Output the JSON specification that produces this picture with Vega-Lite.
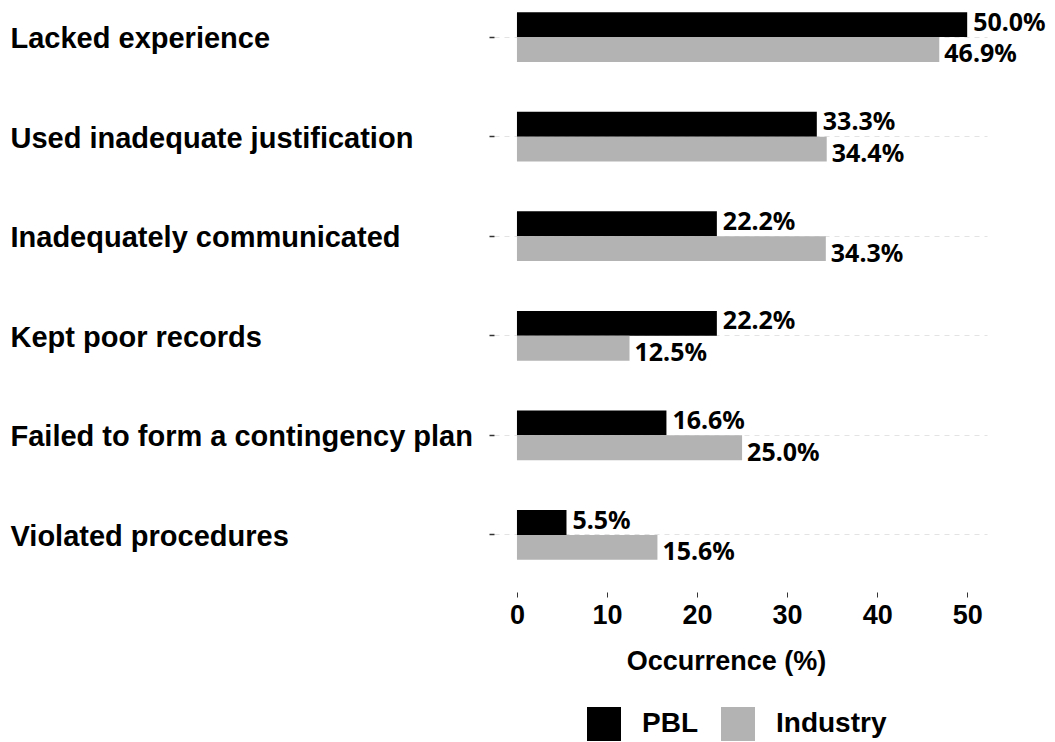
{
  "$schema": "https://vega.github.io/schema/vega-lite/v6.json",
  "autosize": {"type": "none"},
  "width": 493,
  "height": 572,
  "padding": {"left": 494, "top": 0, "right": 68, "bottom": 170},
  "background": "white",
  "config": {"view": {"stroke": null}},
  "data": {
    "values": [
      {"cause": "Lacked experience", "group": "PBL", "value": 50.0, "label": "50.0%"},
      {"cause": "Lacked experience", "group": "Industry", "value": 46.9, "label": "46.9%"},
      {"cause": "Used inadequate justification", "group": "PBL", "value": 33.3, "label": "33.3%"},
      {"cause": "Used inadequate justification", "group": "Industry", "value": 34.4, "label": "34.4%"},
      {"cause": "Inadequately communicated", "group": "PBL", "value": 22.2, "label": "22.2%"},
      {"cause": "Inadequately communicated", "group": "Industry", "value": 34.3, "label": "34.3%"},
      {"cause": "Kept poor records", "group": "PBL", "value": 22.2, "label": "22.2%"},
      {"cause": "Kept poor records", "group": "Industry", "value": 12.5, "label": "12.5%"},
      {"cause": "Failed to form a contingency plan", "group": "PBL", "value": 16.6, "label": "16.6%"},
      {"cause": "Failed to form a contingency plan", "group": "Industry", "value": 25.0, "label": "25.0%"},
      {"cause": "Violated procedures", "group": "PBL", "value": 5.5, "label": "5.5%"},
      {"cause": "Violated procedures", "group": "Industry", "value": 15.6, "label": "15.6%"}
    ]
  },
  "encoding": {
    "y": {
      "field": "cause",
      "type": "nominal",
      "sort": ["Lacked experience", "Used inadequate justification", "Inadequately communicated", "Kept poor records", "Failed to form a contingency plan", "Violated procedures"],
      "scale": {"paddingInner": 0.5, "paddingOuter": 0.122},
      "axis": {
        "title": null,
        "domain": false,
        "bandPosition": 0.5,
        "grid": true,
        "gridColor": "#e3e3e3",
        "gridDash": [5, 5],
        "gridWidth": 1,
        "ticks": true,
        "tickSize": 5,
        "tickColor": "#333333",
        "tickWidth": 1.5,
        "labelAlign": "left",
        "labelBaseline": "middle",
        "labelPadding": 479,
        "labelOffset": 2,
        "labelFont": "Liberation Sans",
        "labelFontWeight": "bold",
        "labelFontSize": 29,
        "labelColor": "#000000",
        "labelLimit": 0
      }
    },
    "yOffset": {
      "field": "group",
      "type": "nominal",
      "sort": ["PBL", "Industry"],
      "scale": {"domain": ["PBL", "Industry"]}
    }
  },
  "layer": [
    {
      "mark": {"type": "bar", "cornerRadius": 0},
      "encoding": {
        "x": {
          "field": "value",
          "type": "quantitative",
          "scale": {"domain": [-2.55, 52.2], "nice": false, "zero": false},
          "axis": {
            "values": [0, 10, 20, 30, 40, 50],
            "title": "Occurrence (%)",
            "domain": false,
            "grid": false,
            "offset": 20,
            "tickSize": 5,
            "tickColor": "#333333",
            "tickWidth": 1,
            "labelFont": "Liberation Sans",
            "labelFontWeight": "bold",
            "labelFontSize": 27,
            "labelColor": "#000000",
            "labelPadding": 5,
            "titleFont": "Liberation Sans",
            "titleFontWeight": "bold",
            "titleFontSize": 27,
            "titleColor": "#000000",
            "titlePadding": 20,
            "titleX": 232
          }
        },
        "x2": {"datum": 0},
        "color": {
          "field": "group",
          "type": "nominal",
          "sort": ["PBL", "Industry"],
          "scale": {"domain": ["PBL", "Industry"], "range": ["#000000", "#b3b3b3"]},
          "legend": {
            "title": null,
            "orient": "none",
            "direction": "horizontal",
            "legendX": 93,
            "legendY": 707,
            "padding": 0,
            "symbolType": "square",
            "symbolSize": 1156,
            "symbolStrokeWidth": 0,
            "symbolOpacity": 1,
            "labelFont": "Liberation Sans",
            "labelFontWeight": "bold",
            "labelFontSize": 28,
            "labelColor": "#000000",
            "labelOffset": 21,
            "columnPadding": 23,
            "labelLimit": 0
          }
        }
      }
    },
    {
      "transform": [{"filter": "datum.group === 'PBL'"}],
      "mark": {
        "type": "text",
        "align": "left",
        "baseline": "middle",
        "dx": 6,
        "dy": -2,
        "font": "Noto Sans",
        "fontWeight": "bold",
        "fontSize": 25,
        "color": "#000000"
      },
      "encoding": {
        "x": {"field": "value", "type": "quantitative"},
        "text": {"field": "label", "type": "nominal"}
      }
    },
    {
      "transform": [{"filter": "datum.group === 'Industry'"}],
      "mark": {
        "type": "text",
        "align": "left",
        "baseline": "middle",
        "dx": 5,
        "dy": 5,
        "font": "Noto Sans",
        "fontWeight": "bold",
        "fontSize": 25,
        "color": "#000000"
      },
      "encoding": {
        "x": {"field": "value", "type": "quantitative"},
        "text": {"field": "label", "type": "nominal"}
      }
    }
  ]
}
